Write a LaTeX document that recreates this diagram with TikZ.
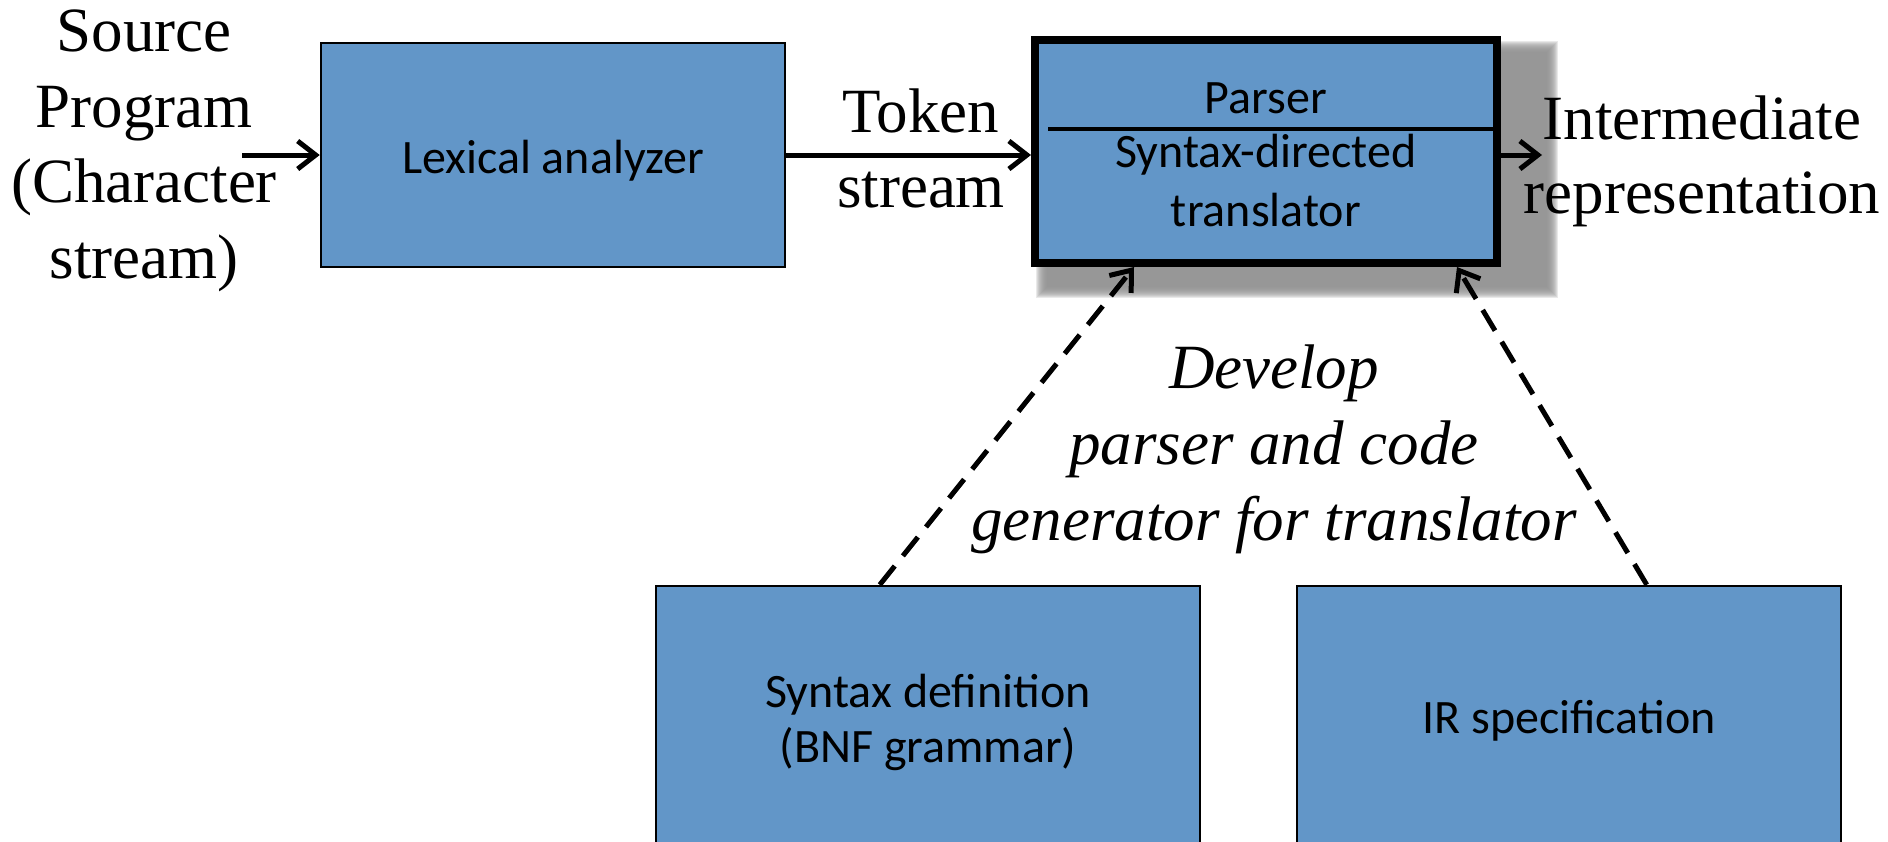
\documentclass[tikz,border=0pt]{standalone}
\usepackage{fontspec}
\setmainfont{Liberation Serif}
\newfontfamily\calibri{Carlito}
\usetikzlibrary{arrows.meta}
\definecolor{boxblue}{RGB}{98,150,200}
\begin{document}
\begin{tikzpicture}[x=1pt,y=-1pt,
  serif/.style={font=\fontsize{63}{75.5}\selectfont, align=center, inner sep=0pt},
  sans/.style={font=\calibri\fontsize{48}{58}\selectfont, align=center, inner sep=0pt},
  blk/.style={draw=black, fill=boxblue, line width=2.5pt, inner sep=0pt},
  arr/.style={line width=5pt, -{Straight Barb[length=18pt,width=28pt]}},
  dasharr/.style={arr, dash pattern=on 24pt off 13pt},
]
\useasboundingbox (0,0) rectangle (1888,841);
\clip (0,0) rectangle (1888,841);
\fill[white] (0,0) rectangle (1888,841);

% soft shadow of the parser box
\foreach \i in {0,...,11}
  \fill[black!43, opacity=0.2] (1036+\i,41+\i) rectangle (1558-\i,298-\i);

% boxes
\node[blk, minimum width=464pt, minimum height=224pt] (lex) at (553,155) {};
\node[draw=black, fill=boxblue, line width=8pt, inner sep=0pt,
      minimum width=462pt, minimum height=223pt] (parser) at (1266,151.5) {};
\draw[line width=4pt] (1048,129) -- (1497,129);
\node[blk, minimum width=544pt, minimum height=264pt] (syn) at (928,718) {};
\node[blk, minimum width=544pt, minimum height=264pt] (irs) at (1569,718) {};

% box texts
\node[sans, anchor=base] (lextxt) at (553,173) {Lexical analyzer};
\node[sans, anchor=base] (ptxt) at (1266,113) {Parser};
\node[sans, font=\calibri\fontsize{48}{59}\selectfont] (sdt) at (1266,181) {Syntax-directed\\translator};
\node[sans, font=\calibri\fontsize{48}{55}\selectfont] (syntxt) at (928,722) {Syntax definition\\(BNF grammar)};
\node[sans, anchor=base] (irtxt) at (1569,733) {IR specification};

% free texts
\node[serif] (src) at (144,151) {Source\\Program\\(Character\\stream)};
\node[serif, font=\fontsize{63}{75}\selectfont] (tok) at (921,148.5) {Token\\stream};
\node[serif, font=\fontsize{63}{74}\selectfont] (irout) at (1702,161.5) {Intermediate\\representation};
\node[serif, font=\itshape\fontsize{63}{76}\selectfont] (dev) at (1274,449.5) {Develop\\parser and code\\generator for translator};

% connectors
\coordinate (in) at (242,155);
\coordinate (out) at (1542,155);
\draw[arr] (in) -- (lex.west);
\draw[arr] (lex.east) -- (lex.east -| parser.west);
\draw[arr] (parser.east |- out) -- (out);
\draw[dasharr] ([xshift=225pt]syn.north west) -- ([xshift=103pt]parser.south west);
\draw[dasharr] ([xshift=351pt]irs.north west) -- ([xshift=426pt]parser.south west);
\end{tikzpicture}
\end{document}
